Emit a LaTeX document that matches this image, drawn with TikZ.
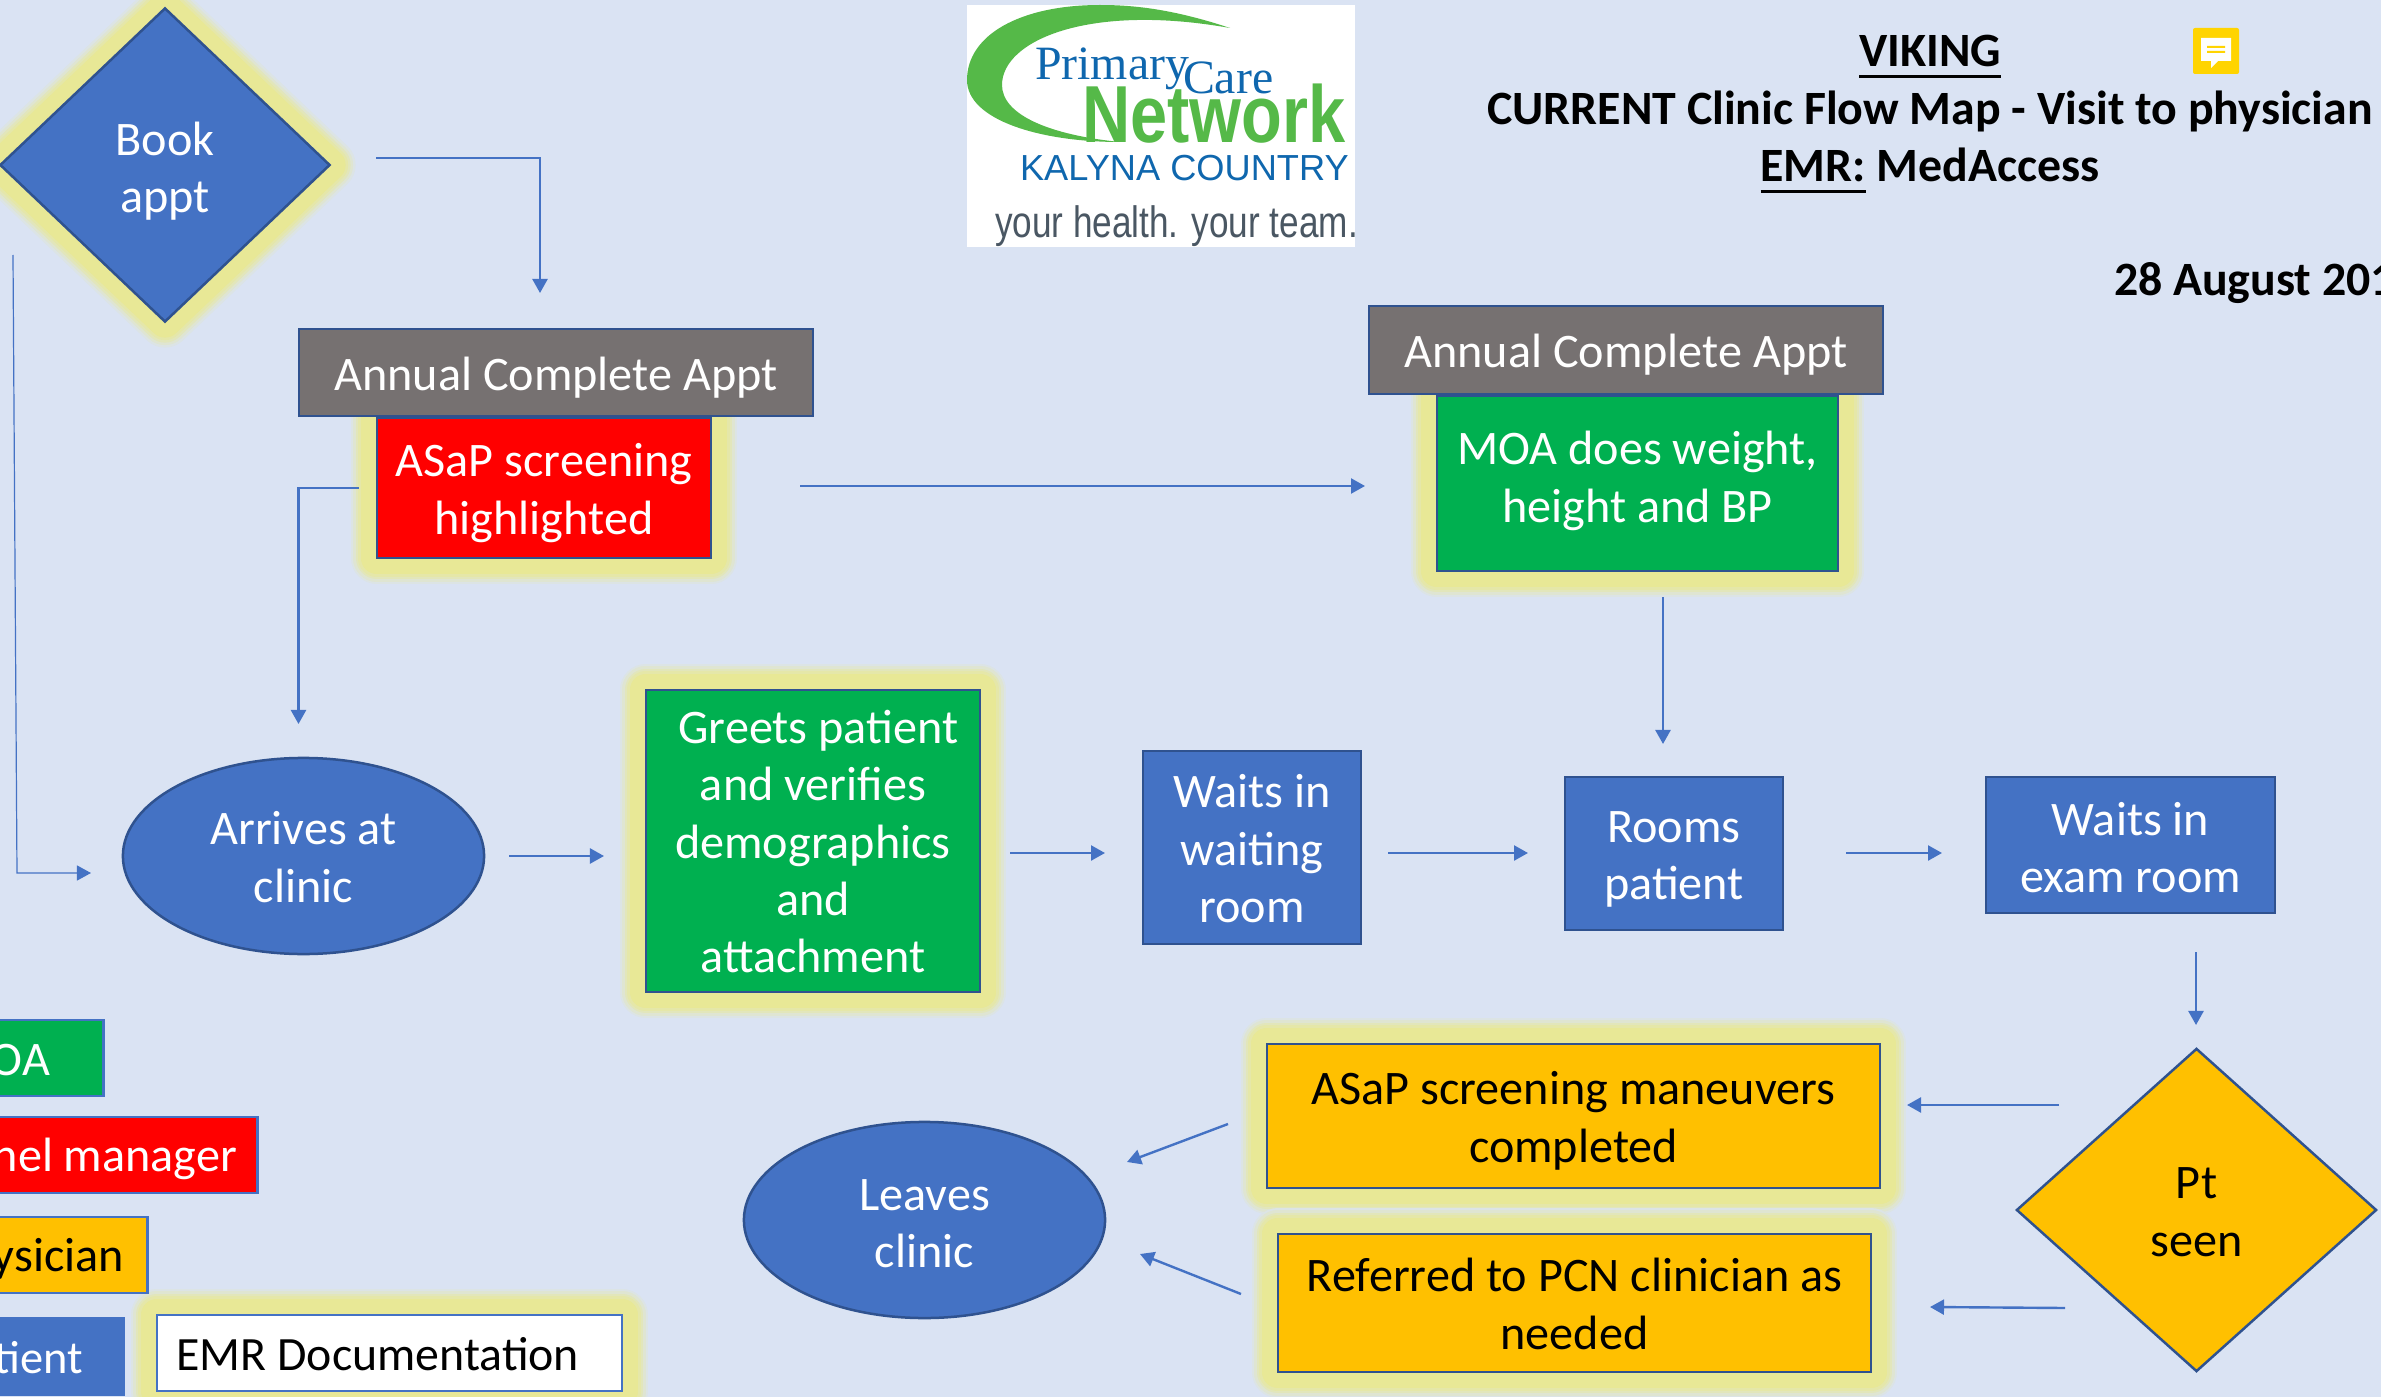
\documentclass[tikz,border=0pt]{standalone}
\usepackage{fontspec}
\usepackage{graphicx}
\setmainfont{Carlito}
\newfontfamily\logoserif{Liberation Serif}
\newfontfamily\logosans{Liberation Sans}
\usetikzlibrary{shapes.geometric,arrows.meta}
\definecolor{bgc}{HTML}{DAE3F3}
\definecolor{lnc}{HTML}{4472C4}
\definecolor{bdc}{HTML}{2F528F}
\definecolor{grn}{HTML}{00B050}
\definecolor{redc}{HTML}{FF0000}
\definecolor{amb}{HTML}{FFC000}
\definecolor{gry}{HTML}{767171}
\definecolor{glw}{HTML}{E8E896}
\definecolor{lgb}{HTML}{0F67AE}
\definecolor{lgg}{HTML}{55B948}
\definecolor{lgt}{HTML}{4A5763}
\definecolor{stk}{HTML}{FFD400}
\newcommand{\ulbar}[1]{\setbox0\hbox{#1}\rlap{\raisebox{-3.4pt}{\rule{\wd0}{1.1pt}}}\box0\relax}
% first-line strut: positive values push the whole text block down by half the amount
\newcommand{\tp}[1]{\rule{0pt}{\dimexpr 11pt+#1\relax}}
\newcommand{\bt}{\rule[-4.5pt]{0pt}{4.5pt}}
\tikzset{
  body/.style={inner sep=0pt,outer sep=0pt,align=center,font=\fontsize{13.7}{16.3}\selectfont,line width=0.025cm},
  glow/.style={preaction={draw=glw!15!bgc,line width=0.52cm,line join=round},
               preaction={draw=glw!35!bgc,line width=0.47cm,line join=round},
               preaction={draw=glw!60!bgc,line width=0.42cm,line join=round},
               preaction={draw=glw!80!bgc,line width=0.37cm,line join=round},
               preaction={draw=glw,line width=0.32cm,line join=round}},
  wbox/.style={body,rectangle,draw=bdc,text=white},
  bluebox/.style={wbox,fill=lnc},
  greenbox/.style={wbox,fill=grn},
  redbox/.style={wbox,fill=redc},
  greybox/.style={wbox,fill=gry},
  ambbox/.style={body,rectangle,draw=bdc,fill=amb,text=black},
  oval/.style={wbox,ellipse,fill=lnc},
  dmd/.style={body,diamond,draw=bdc,fill=#1},
  legendbox/.style={body,rectangle,draw=lnc,fill=#1},
  legendtxt/.style={inner sep=0pt,outer sep=0pt,font=\fontsize{13.7}{16.5}\selectfont,anchor=east},
  ttl/.style={inner sep=0pt,outer sep=0pt,font=\fontsize{13.6}{16.5}\selectfont\bfseries,text=black},
  flow/.style={draw=lnc,line width=0.024cm,-{Triangle[length=0.14cm,width=0.15cm]}},
  thinflow/.style={flow,line width=0.012cm},
  logotxt/.style={inner sep=0pt,outer sep=0pt,anchor=base west},
}
\begin{document}
\begin{tikzpicture}[x=0.01cm,y=-0.01cm]
\useasboundingbox (0,0) rectangle (2381,1397);
\fill[bgc] (0,0) rectangle (2381,1397);

% logo
\fill[white] (967,5) rectangle (1355,247);
\fill[lgg] (1230,28) .. controls (1170,8) and (1130,5) .. (1100,5)
  .. controls (1020,5) and (967,35) .. (967,80)
  .. controls (967,120) and (1040,142) .. (1120,142)
  .. controls (1050,135) and (1002,115) .. (1002,85)
  .. controls (1002,40) and (1090,3) .. (1230,28) -- cycle;
\node[logotxt,text=lgb,font=\logoserif\fontsize{13.6}{14}\selectfont] (lgprimary) at (1035,80) {Primary};
\node[logotxt,text=lgb,font=\logoserif\fontsize{13.6}{14}\selectfont] (lgcare) at (1183,94) {Care};
\node[logotxt,text=lgg,font=\logosans\bfseries\fontsize{23}{24}\selectfont] (lgnet) at (1082,143) {\scalebox{0.825}[1]{Network}};
\node[logotxt,text=lgb,font=\logosans\fontsize{10.3}{12}\selectfont] (lgkal) at (1020,181) {KALYNA COUNTRY};
\node[logotxt,text=lgt,font=\logosans\fontsize{12.5}{14}\selectfont] (lgyour) at (995,238) {\scalebox{0.80}[1]{your health. your team.}};

% title
\node[ttl,anchor=base] (tviking) at (1930,66.5) {\ulbar{VIKING}};
\node[ttl,anchor=base] (tflow) at (1930,124.5) {CURRENT Clinic Flow Map - Visit to physician};
\node[ttl,anchor=base] (temr) at (1930,181.5) {\ulbar{EMR:} MedAccess};
\node[ttl,anchor=base west] (tdate) at (2114,295) {28 August 201};

% sticky note
\fill[stk,rounded corners=0.02cm] (2193,28) rectangle (2239,74);
\fill[white!95!bgc] (2201,38) -- (2231,38) -- (2231,61) -- (2218,61) -- (2211,68) -- (2211,61) -- (2201,61) -- cycle;
\fill[stk] (2207,46) rectangle (2225,48) (2207,51) rectangle (2225,53);

% flow nodes
\node[dmd=lnc,glow,text=white,minimum width=3.29cm,minimum height=3.13cm] (book) at (165,165) {\tp{4.3pt}Book\\appt\bt};
\node[redbox,glow,minimum width=3.34cm,minimum height=1.40cm] (asap) at (544,488) {\tp{3.4pt}ASaP screening\\highlighted\bt};
\node[greybox,minimum width=5.14cm,minimum height=0.87cm] (annA) at (556,372.5) {\tp{3.5pt}Annual Complete Appt\bt};
\node[greenbox,glow,minimum width=4.01cm,minimum height=1.75cm] (moa) at (1637.5,483.5) {\tp{-0.8pt}MOA does weight,\\height and BP\bt};
\node[greybox,minimum width=5.14cm,minimum height=0.88cm] (annB) at (1626,350) {\tp{3.5pt}Annual Complete Appt\bt};
\node[oval,minimum width=3.61cm,minimum height=1.96cm] (arrives) at (303.5,856) {\tp{3.5pt}Arrives at\\clinic\bt};
\node[greenbox,glow,minimum width=3.34cm,minimum height=3.02cm] (greets) at (813,841) {\tp{3.2pt}\hspace*{3.1pt}Greets patient\\and verifies\\demographics\\and\\attachment\bt};
\node[bluebox,minimum width=2.18cm,minimum height=1.93cm] (waiting) at (1252,847.5) {\tp{3.5pt}Waits in\\waiting\\room\bt};
\node[bluebox,minimum width=2.18cm,minimum height=1.53cm] (rooms) at (1674,853.5) {\tp{3.4pt}Rooms\\patient\bt};
\node[bluebox,minimum width=2.89cm,minimum height=1.36cm] (exam) at (2130.5,845) {\tp{4.3pt}Waits in\\exam room\bt};
\node[dmd=amb,text=black,minimum width=3.59cm,minimum height=3.22cm] (pt) at (2196.5,1210) {\tp{3.4pt}Pt\\seen\bt};
\node[ambbox,glow,minimum width=6.13cm,minimum height=1.44cm] (scr) at (1573.5,1116) {\tp{3.4pt}ASaP screening maneuvers\\completed\bt};
\node[ambbox,glow,minimum width=5.93cm,minimum height=1.38cm] (ref) at (1574.5,1303) {\tp{3.5pt}Referred to PCN clinician as\\needed\bt};
\node[oval,minimum width=3.61cm,minimum height=1.96cm] (leaves) at (924.5,1220) {\tp{4.3pt}Leaves\\clinic\bt};

% legend
\node[legendbox=white,glow,minimum width=4.65cm,minimum height=0.76cm] (emr) at (389.5,1353) {};
\node[legendtxt,text=black,anchor=west,font=\fontsize{13.6}{16.5}\selectfont] (emrt) at (176.5,1354) {EMR Documentation};
\node[legendbox=grn,minimum width=1.13cm,minimum height=0.76cm] (lgA) at (47,1058) {};
\node[legendtxt,text=white] (lgAt) at (50,1060) {OA};
\node[legendbox=redc,minimum width=2.67cm,minimum height=0.76cm] (lgB) at (124,1155) {};
\node[legendtxt,text=white] (lgBt) at (237,1159) {nel manager};
\node[legendbox=amb,minimum width=1.57cm,minimum height=0.76cm] (lgC) at (69,1255) {};
\node[legendtxt,text=black] (lgCt) at (124,1259) {ysician};
\node[legendbox=lnc,minimum width=1.33cm,minimum height=0.77cm] (lgD) at (57,1356.5) {};
\node[legendtxt,text=white,font=\fontsize{13.2}{16.5}\selectfont] (lgDt) at (83,1358) {tient};

% connector ends
\coordinate (a1) at (376,158); \coordinate (a2) at (540,158); \coordinate (a3) at (540,293);
\coordinate (b1) at (13,255); \coordinate (b2) at (17,873); \coordinate (b3) at (91,873);
\coordinate (c1) at (359,488); \coordinate (c2) at (298.5,488); \coordinate (c3) at (298.5,724);
\coordinate (d1) at (800,486); \coordinate (d2) at (1365,486);
\coordinate (e1) at (1663,597); \coordinate (e2) at (1663,744);
\coordinate (f1) at (509,856); \coordinate (f2) at (604,856);
\coordinate (g1) at (1010,853); \coordinate (g2) at (1105,853);
\coordinate (h1) at (1388,853); \coordinate (h2) at (1528,853);
\coordinate (i1) at (1846,853); \coordinate (i2) at (1942,853);
\coordinate (j1) at (2196,952); \coordinate (j2) at (2196,1025);
\coordinate (k1) at (2059,1105); \coordinate (k2) at (1907,1105);
\coordinate (l1) at (2065,1308); \coordinate (l2) at (1930,1307);
\coordinate (m1) at (1228,1124); \coordinate (m2) at (1127,1162);
\coordinate (n1) at (1241,1294); \coordinate (n2) at (1140,1254);

\draw[flow] (a1) -- (a2) -- (a3);
\draw[thinflow] (b1) -- (b2) -- (b3);
\draw[flow] (c1) -- (c2) -- (c3);
\draw[flow] (d1) -- (d2);
\draw[flow] (e1) -- (e2);
\draw[flow] (f1) -- (f2);
\draw[flow] (g1) -- (g2);
\draw[flow] (h1) -- (h2);
\draw[flow] (i1) -- (i2);
\draw[flow] (j1) -- (j2);
\draw[flow] (k1) -- (k2);
\draw[flow] (l1) -- (l2);
\draw[flow] (m1) -- (m2);
\draw[flow] (n1) -- (n2);
\end{tikzpicture}
\end{document}
